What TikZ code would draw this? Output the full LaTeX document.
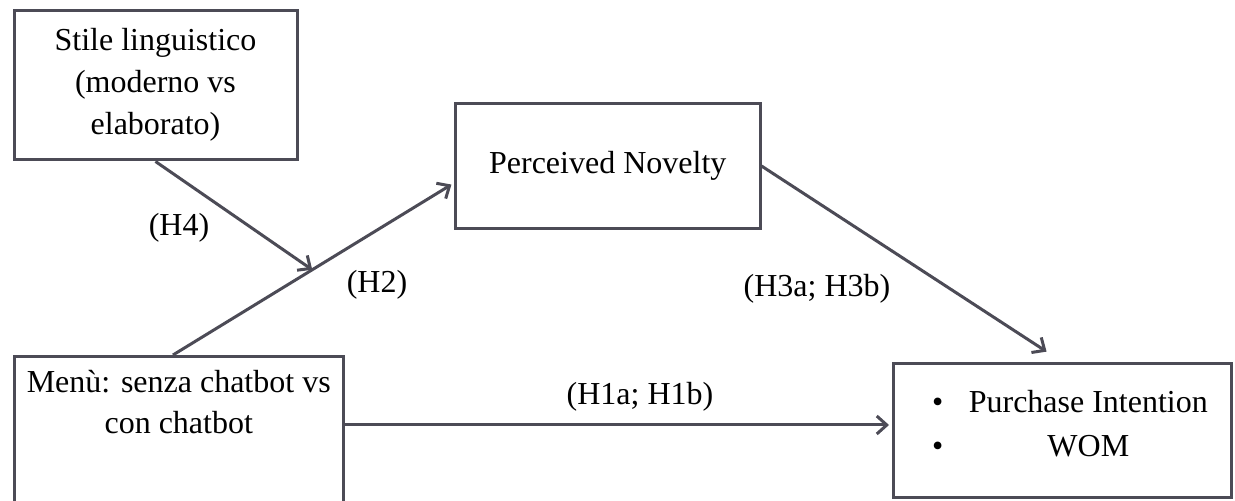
\documentclass[tikz,border=0pt]{standalone}
\usepackage{fontspec}
\setmainfont{Liberation Serif}
\usetikzlibrary{arrows.meta,calc}
\definecolor{ln}{RGB}{76,75,86}
\begin{document}
\begin{tikzpicture}[x=0.5pt,y=-0.5pt,
  box/.style={draw=ln,line width=1.5pt,inner sep=0pt,align=center},
  lbl/.style={inner sep=0pt},
  txt/.style={inner sep=0pt,align=center},
  arr/.style={draw=ln,line width=1.5pt,-{Straight Barb[length=5pt,width=9pt]}},
  font=\fontsize{16}{21}\selectfont]
\clip (0,0) rectangle (1235,501);
% boxes
\node[box,minimum width=141.5pt,minimum height=74.75pt] (stile) at (155.5,85.25)
  {Stile linguistico\\(moderno vs\\elaborato)};
\node[box,minimum width=152.25pt,minimum height=62.5pt] (pn) at (607.75,166)
  {Perceived Novelty};
\node[box,minimum width=164.75pt,minimum height=81.5pt] (men) at (178.75,438) {};
\node[txt,anchor=north,font=\fontsize{16}{20.5}\selectfont] (mentext) at (178.75,370)
  {Menù: senza chatbot vs\\con chatbot};
\node[box,minimum width=169pt,minimum height=67pt] (out) at (1062.5,430.5) {};
\node[txt,font=\fontsize{16}{22}\selectfont] (outtext) at (1070,426.2)
  {\begin{tabular}{@{}c@{\hspace{12.75pt}}c@{}}\textbullet & Purchase Intention\\ \textbullet & WOM\end{tabular}};
% connectors
\coordinate (h2s) at ([xshift=-2.9pt]men.north);
\coordinate (h2e) at ([yshift=-8.5pt]pn.west);
\coordinate (mid) at ($(h2s)!0.4956!(h2e)$);
\draw[arr,shorten >=1.5pt] (h2s) -- (h2e);
\draw[arr] (stile.south) -- (mid);
\draw[arr,shorten >=9.5pt] (pn.east) -- (out.north);
\coordinate (h1s) at ([yshift=6.5pt]men.east);
\draw[arr,shorten >=1.5pt] (h1s) -- (h1s -| out.west);
% labels
\node[lbl] (lh4) at (179,228) {(H4)};
\node[lbl] (lh2) at (377,285) {(H2)};
\node[lbl] (lh3) at (817,289) {(H3a; H3b)};
\node[lbl] (lh1) at (640,397) {(H1a; H1b)};
\end{tikzpicture}
\end{document}
